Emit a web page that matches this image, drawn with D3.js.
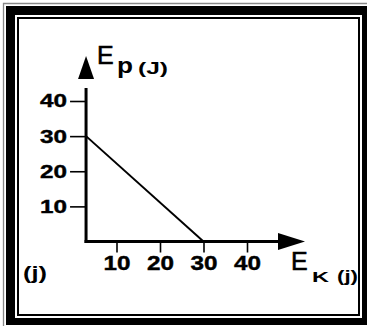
<!DOCTYPE html>
<html>
<head>
<meta charset="utf-8">
<script src="https://cdn.jsdelivr.net/npm/d3@7"></script>
<style>
  html, body { margin: 0; padding: 0; background: #fff; }
  svg { display: block; }
</style>
</head>
<body>
<svg id="chart" width="367" height="326"></svg>
<script>
// ---- data ----
const xTickValues = [10, 20, 30, 40];
const yTickValues = [10, 20, 30, 40];
const axisOriginEK = 3;              // where the hand-drawn Ep axis crosses the Ek scale
const lineEK = [3, 30];              // E_K values of the line ends
const lineEP = [30, 0];              // E_p values of the line ends
const yTitleMain = "E", yTitleSub = "p", yTitleUnit = "(J)";
const xTitleMain = "E", xTitleSub = "K", xTitleUnit = "(j)";
const cornerUnit = "(j)";

const svg = d3.select("#chart");
const W = 367, H = 326;

// ---- frame ----
svg.append("rect").attr("width", W).attr("height", H).attr("fill", "#fff");
svg.append("path")
  .attr("d", `M3.5,${H} L3.5,3.5 L${W},3.5`)
  .attr("fill", "none").attr("stroke", "#888").attr("stroke-width", 1.3);
svg.append("path")
  .attr("fill-rule", "evenodd").attr("fill", "#000")
  .attr("d", `M6,6 H${W} V325 H6 Z M15,15 V318 H362 V15 Z`);
svg.append("rect")
  .attr("x", 18).attr("y", 18).attr("width", 341).attr("height", 297)
  .attr("fill", "none").attr("stroke", "#000").attr("stroke-width", 2);

// ---- scales ----
const x = d3.scaleLinear().domain([0, 40]).range([73, 247]);
const y = d3.scaleLinear().domain([0, 40]).range([241.5, 101]);

const x0 = x(axisOriginEK);
const y0 = y(0);
const font = "'Liberation Sans', Arial, Helvetica, sans-serif";

// ---- y axis ticks ----
const gy = svg.append("g").attr("transform", `translate(${x0},0)`)
  .call(d3.axisLeft(y).tickValues(yTickValues).tickSize(16).tickPadding(3));
gy.select(".domain").remove();
gy.selectAll(".tick line").attr("stroke", "#000").attr("stroke-width", 1.6);
gy.selectAll(".tick text")
  .attr("fill", "#000").attr("stroke", "#000").attr("stroke-width", 0.4)
  .attr("font-family", font).attr("font-size", 18.5)
  .attr("font-weight", "bold").attr("textLength", 27).attr("lengthAdjust", "spacingAndGlyphs");

// ---- x axis ticks ----
const gx = svg.append("g").attr("transform", `translate(0,${y0})`)
  .call(d3.axisBottom(x).tickValues(xTickValues).tickSize(11).tickPadding(3.5));
gx.select(".domain").remove();
gx.selectAll(".tick line").attr("stroke", "#000").attr("stroke-width", 1.6);
gx.selectAll(".tick text")
  .attr("fill", "#000").attr("stroke", "#000").attr("stroke-width", 0.4)
  .attr("font-family", font).attr("font-size", 19.5)
  .attr("font-weight", "bold").attr("textLength", 27).attr("lengthAdjust", "spacingAndGlyphs");

// ---- axis lines with arrows ----
const yTop = y(40) - 23, xRight = x(40) + 31;
svg.append("line")
  .attr("x1", x0).attr("y1", y0 + 1.5).attr("x2", x0).attr("y2", yTop + 10)
  .attr("stroke", "#000").attr("stroke-width", 3);
svg.append("path")
  .attr("d", `M${x0},${yTop - 22} L${x0 - 8},${yTop + 1} L${x0 + 8},${yTop + 1} Z`)
  .attr("fill", "#000");
svg.append("line")
  .attr("x1", x0 - 1.5).attr("y1", y0).attr("x2", xRight + 2).attr("y2", y0)
  .attr("stroke", "#000").attr("stroke-width", 3);
svg.append("path")
  .attr("d", `M${xRight + 27},${y0} L${xRight},${y0 - 8.5} L${xRight},${y0 + 8.5} Z`)
  .attr("fill", "#000");

// ---- data line ----
const pts = lineEK.map((d, i) => [d, lineEP[i]]);
svg.append("path")
  .datum(pts)
  .attr("d", d3.line().x(d => x(d[0])).y(d => y(d[1])))
  .attr("fill", "none").attr("stroke", "#000").attr("stroke-width", 2);

// ---- titles ----
const yT = svg.append("text").attr("font-family", font).attr("fill", "#000");
yT.append("tspan").attr("x", 97).attr("y", 63.5).attr("font-size", 25)
  .attr("stroke", "#000").attr("stroke-width", 0.6).text(yTitleMain);
yT.append("tspan").attr("x", 117).attr("y", 73).attr("font-size", 22).attr("font-weight", "bold")
  .attr("textLength", 16).attr("lengthAdjust", "spacingAndGlyphs").text(yTitleSub);
yT.append("tspan").attr("x", 138).attr("y", 74).attr("font-size", 16.5).attr("font-weight", "bold")
  .attr("textLength", 30).attr("lengthAdjust", "spacingAndGlyphs").text(yTitleUnit);

const xT = svg.append("text").attr("font-family", font).attr("fill", "#000");
xT.append("tspan").attr("x", 291).attr("y", 270).attr("font-size", 25)
  .attr("stroke", "#000").attr("stroke-width", 0.6).text(xTitleMain);
xT.append("tspan").attr("x", 312).attr("y", 281.5).attr("font-size", 15).attr("font-weight", "bold")
  .attr("textLength", 17).attr("lengthAdjust", "spacingAndGlyphs").text(xTitleSub);
xT.append("tspan").attr("x", 337).attr("y", 281.5).attr("font-size", 16.5).attr("font-weight", "bold")
  .attr("textLength", 21).attr("lengthAdjust", "spacingAndGlyphs").text(xTitleUnit);

svg.append("text").attr("font-family", font).attr("fill", "#000")
  .attr("x", 23).attr("y", 279).attr("font-size", 18).attr("font-weight", "bold")
  .attr("textLength", 24).attr("lengthAdjust", "spacingAndGlyphs").text(cornerUnit);
</script>
</body>
</html>
